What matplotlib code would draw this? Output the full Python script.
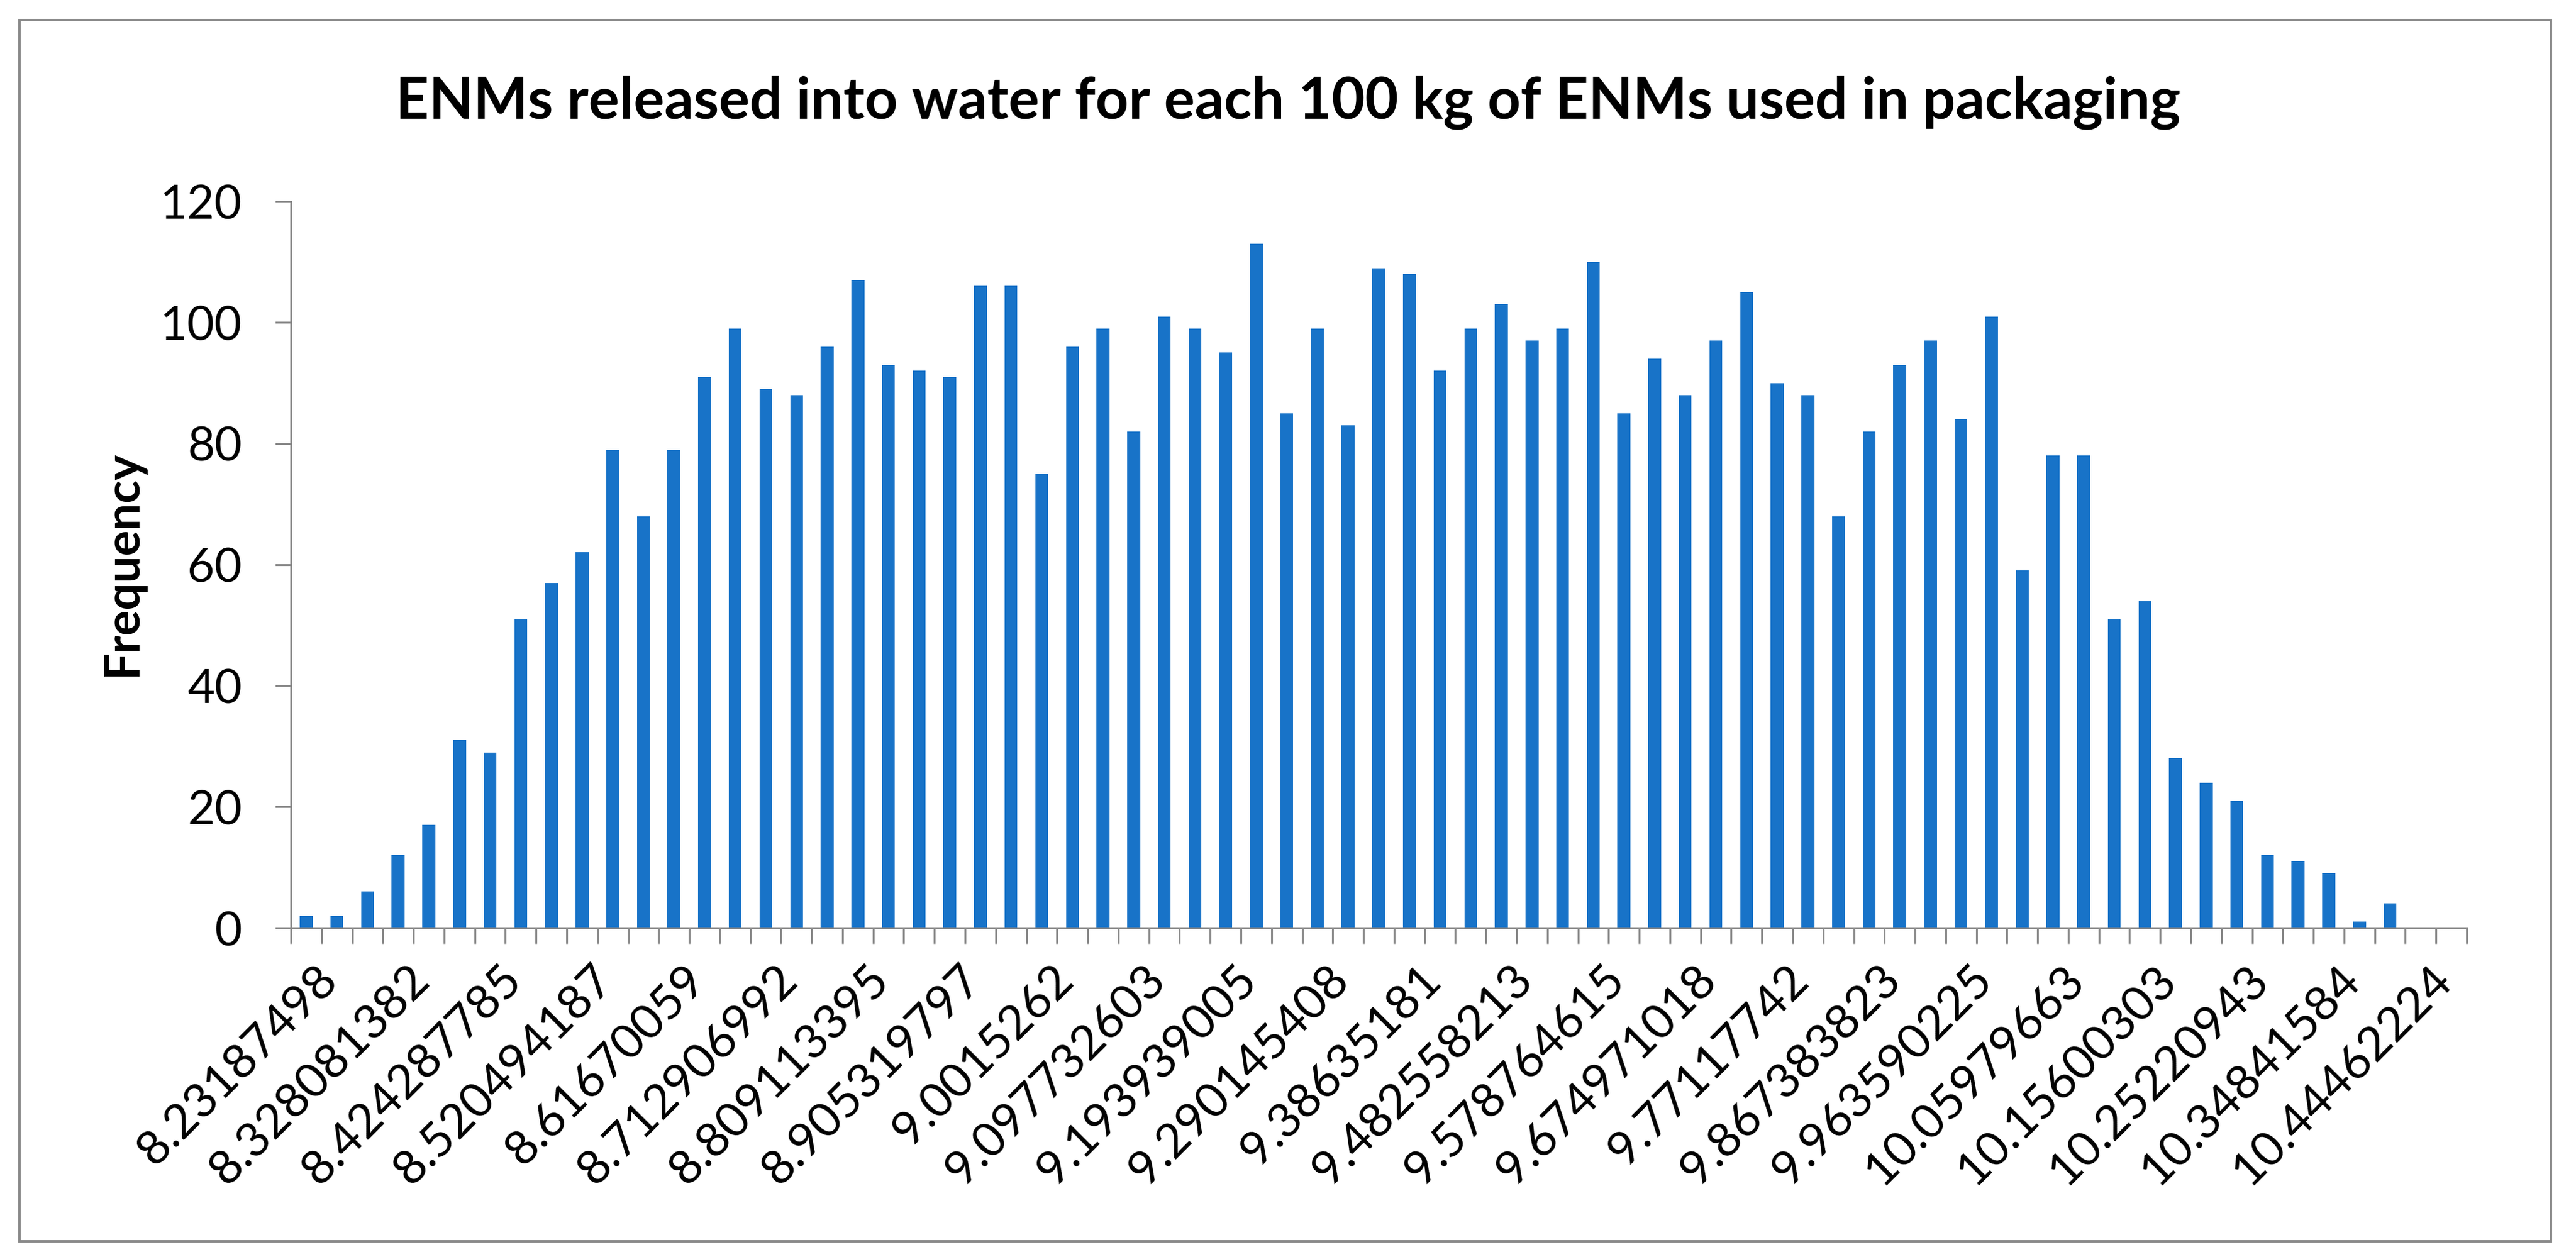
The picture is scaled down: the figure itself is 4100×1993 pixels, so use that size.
import matplotlib

matplotlib.use("Agg")
import matplotlib.pyplot as plt  # noqa: E402
import numpy as np  # noqa: E402
from matplotlib.patches import Rectangle  # noqa: E402
from matplotlib.transforms import ScaledTranslation  # noqa: E402

plt.rcParams["font.family"] = ["Lato", "DejaVu Sans"]

# histogram counts, one per bin (71 bins)
title = "ENMs released into water for each 100 kg of ENMs used in packaging"
y_label = "Frequency"
frequency = [
    2, 2, 6, 12, 17, 31, 29, 51, 57, 62,
    79, 68, 79, 91, 99, 89, 88, 96, 107, 93,
    92, 91, 106, 106, 75, 96, 99, 82, 101, 99,
    95, 113, 85, 99, 83, 109, 108, 92, 99, 103,
    97, 99, 110, 85, 94, 88, 97, 105, 90, 88,
    68, 82, 93, 97, 84, 101, 59, 78, 78, 51,
    54, 28, 24, 21, 12, 11, 9, 1, 4, 0, 0,
]
# only every third bin is labelled on the category axis
tick_labels = [
    "8.23187498", "8.328081382", "8.424287785", "8.520494187",
    "8.61670059", "8.712906992", "8.809113395", "8.905319797",
    "9.0015262", "9.097732603", "9.193939005", "9.290145408",
    "9.38635181", "9.482558213", "9.578764615", "9.674971018",
    "9.77117742", "9.867383823", "9.963590225", "10.05979663",
    "10.15600303", "10.25220943", "10.34841584", "10.44462224",
]
label_step = 3
y_ticks = [0, 20, 40, 60, 80, 100, 120]

BAR_COLOR = "#1873c8"
GRAY = "#898989"
W, H, DPI = 4100, 1993, 200

fig = plt.figure(figsize=(W / DPI, H / DPI), dpi=DPI)
ax = fig.add_axes([463 / W, 1 - 1477 / H, (3926 - 463) / W, (1477 - 320.5) / H])

x = np.arange(len(frequency))
ax.bar(x, frequency, width=0.42, color=BAR_COLOR, zorder=2)
ax.set_xlim(-0.5, len(frequency) - 0.5)
ax.set_ylim(0, 120)
ax.set_yticks(y_ticks)
ax.set_yticklabels([str(v) for v in y_ticks], fontsize=27)

# tick marks sit on bin boundaries, labels on bin centres
ax.set_xticks(np.arange(-0.5, len(frequency)))
ax.set_xticklabels([])
ax.set_xticks(x[::label_step], minor=True)
ax.set_xticklabels(tick_labels, minor=True, rotation=45, ha="right",
                   va="top", rotation_mode="anchor", fontsize=27.5)
ax.tick_params(axis="x", which="major", length=9, width=1.1, color=GRAY)
ax.tick_params(axis="x", which="minor", length=0, pad=17)
ax.tick_params(axis="y", length=9, width=1.1, color=GRAY, pad=19)

# nudge the slanted labels a little to the right, as in the original
shift = ScaledTranslation(14 / DPI, 0, fig.dpi_scale_trans)
for lbl in ax.get_xticklabels(minor=True):
    lbl.set_transform(lbl.get_transform() + shift)

for side in ("top", "right"):
    ax.spines[side].set_visible(False)
for side in ("left", "bottom"):
    ax.spines[side].set_color(GRAY)
    ax.spines[side].set_linewidth(1.1)

fig.text(2050 / W, 1 - 188 / H, title, ha="center", va="baseline",
         fontsize=33, fontweight="bold")
fig.text(195 / W, 1 - 896 / H, y_label, ha="center", va="center",
         rotation=90, fontsize=27.5, fontweight="bold")

fig.add_artist(Rectangle((31 / W, 1 - 1976 / H), (4060 - 31) / W, (1976 - 32) / H,
                         transform=fig.transFigure, fill=False,
                         edgecolor=GRAY, linewidth=1.4))

fig.savefig("out.png", dpi=DPI)
